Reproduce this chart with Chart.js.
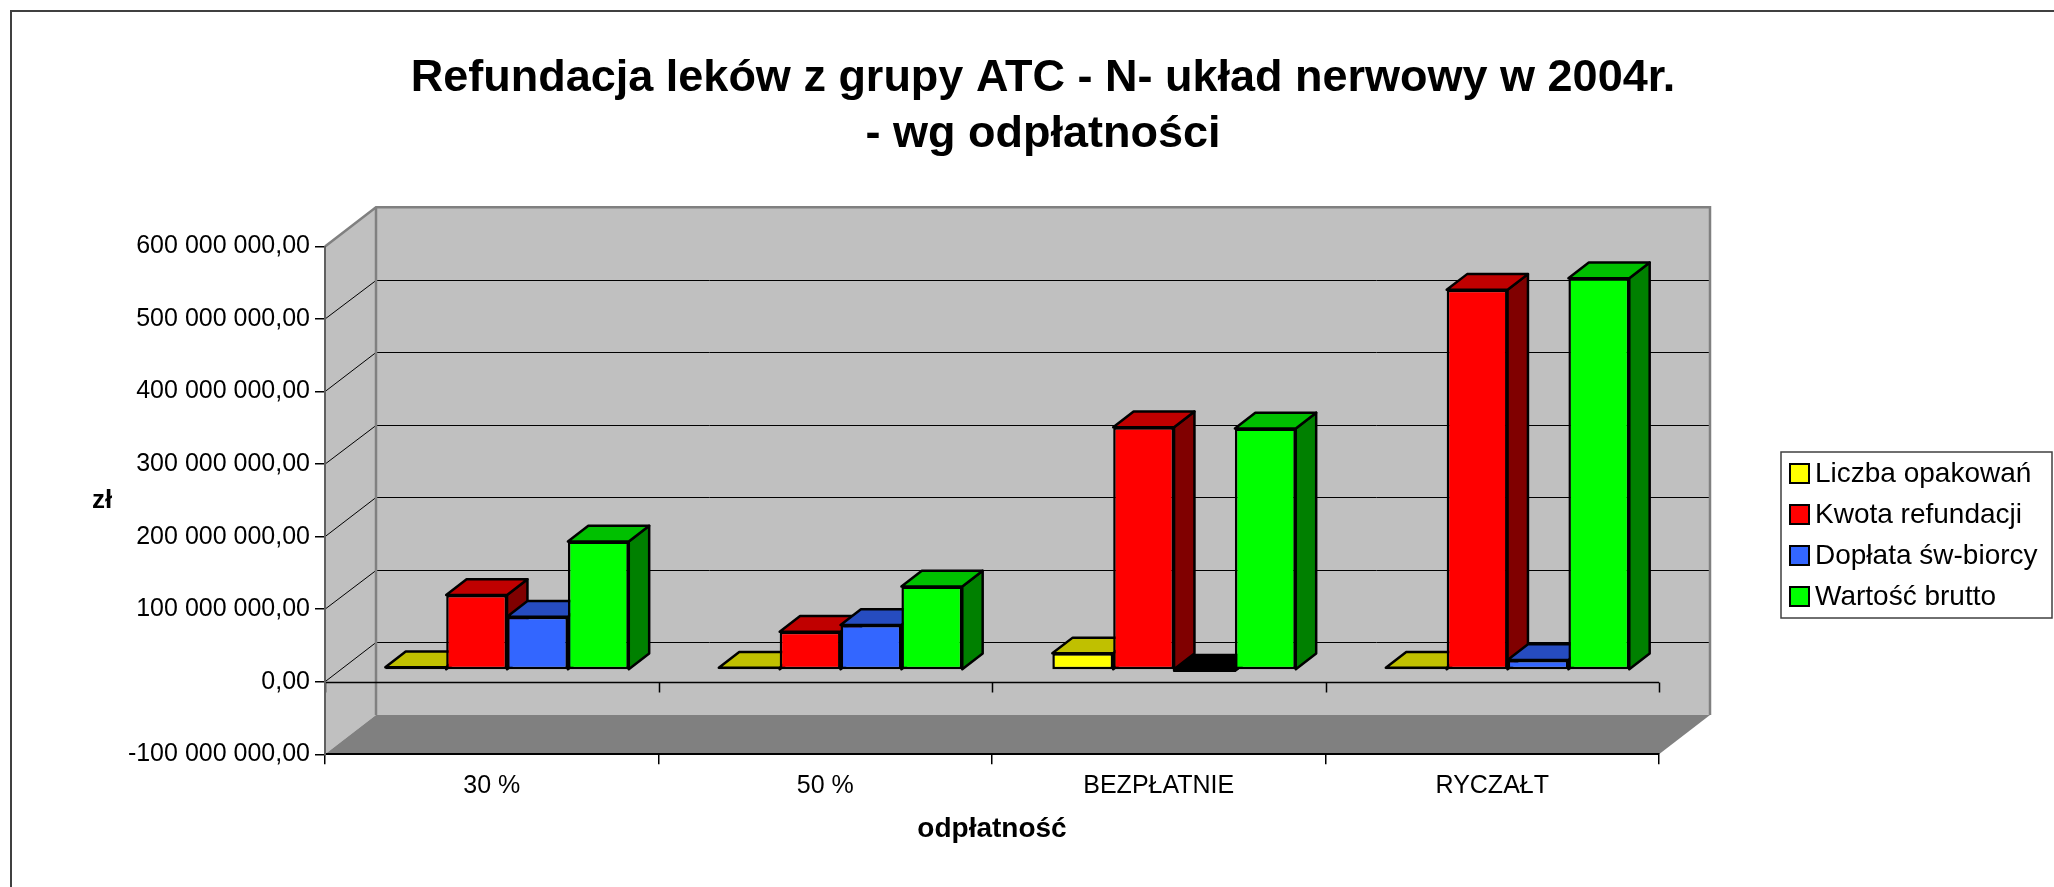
<!DOCTYPE html>
<html>
<head>
<meta charset="utf-8">
<title>Refundacja leków z grupy ATC - N</title>
<script src="https://cdn.jsdelivr.net/npm/chart.js@4"></script>
<style>
  html, body { margin: 0; padding: 0; background: #fff; }
  canvas { display: block; }
</style>
</head>
<body>
<canvas id="wykres" width="2054" height="887"></canvas>
<script>
// Dane
const kategorie = ['30 %', '50 %', 'BEZPŁATNIE', 'RYCZAŁT'];
const liczbaOpakowan = [3700000, 3200000, 22900000, 3000000];
const kwotaRefundacji = [103400000, 52800000, 334600000, 524000000];
const doplataSwBiorcy = [73500000, 62000000, -1000000, 13800000];
const wartoscBrutto = [177000000, 115000000, 333000000, 540000000];
const etykietySerii = ['Liczba opakowań', 'Kwota refundacji', 'Dopłata św-biorcy', 'Wartość brutto'];
const tytul = ['Refundacja leków z grupy ATC - N- układ nerwowy w 2004r.', '- wg odpłatności'];
const osYMin = -100000000, osYMax = 600000000, osYKrok = 100000000;

// Kolory: przod, gora, bok slupka
const kolory = ['#FFFF00', '#FF0000', '#3366FF', '#00FF00'];
const koloryGora = ['#C0C000', '#C00000', '#264CC0', '#00C000'];
const koloryBok = ['#808000', '#800000', '#1A3380', '#008000'];

const FONT = "'Liberation Sans', Arial, sans-serif";
Chart.defaults.font.family = FONT;
Chart.defaults.color = '#000';

// glebokosc 3D (przesuniecie sciany tylnej)
const GLEB_X = 51, GLEB_Y = -39.3;
const SLUPEK_PRZOD = 0.3, SLUPEK_GLEB = 0.4;

function formatZl(v) {
  const neg = v < 0;
  const cz = Math.abs(v).toFixed(2).split('.');
  const calk = cz[0].replace(/\B(?=(\d{3})+(?!\d))/g, ' ');
  return (neg ? '-' : '') + calk + ',' + cz[1];
}

function wielokat(ctx, pkt, kolor) {
  ctx.beginPath();
  ctx.moveTo(pkt[0][0], pkt[0][1]);
  for (let i = 1; i < pkt.length; i++) ctx.lineTo(pkt[i][0], pkt[i][1]);
  ctx.closePath();
  ctx.fillStyle = kolor;
  ctx.fill();
  ctx.stroke();
}

const trojwymiar = {
  id: 'trojwymiar',
  beforeDraw(chart) {
    const {ctx, chartArea: a, scales: {x, y}} = chart;
    ctx.save();
    ctx.fillStyle = '#fff';
    ctx.fillRect(0, 0, chart.width, chart.height);
    const yTop = y.getPixelForValue(osYMax), yBot = y.getPixelForValue(osYMin);
    // sciana tylna i boczna
    ctx.fillStyle = '#c0c0c0';
    ctx.fillRect(a.left + GLEB_X, yTop + GLEB_Y, a.right - a.left, yBot - yTop);
    ctx.beginPath();
    ctx.moveTo(a.left, yTop);
    ctx.lineTo(a.left + GLEB_X, yTop + GLEB_Y);
    ctx.lineTo(a.left + GLEB_X, yBot + GLEB_Y);
    ctx.lineTo(a.left, yBot);
    ctx.closePath();
    ctx.fill();
    // podloga
    ctx.fillStyle = '#808080';
    ctx.beginPath();
    ctx.moveTo(a.left, yBot);
    ctx.lineTo(a.left + GLEB_X, yBot + GLEB_Y);
    ctx.lineTo(a.right + GLEB_X, yBot + GLEB_Y);
    ctx.lineTo(a.right, yBot);
    ctx.closePath();
    ctx.fill();
    // linie siatki na scianach
    ctx.strokeStyle = '#000';
    ctx.lineWidth = 1;
    y.ticks.forEach(t => {
      if (t.value <= osYMin || t.value >= osYMax) return;
      const py = y.getPixelForValue(t.value);
      const pyb = Math.round(py + GLEB_Y) + 0.5;
      ctx.beginPath();
      ctx.moveTo(a.left, py);
      ctx.lineTo(a.left + GLEB_X, pyb);
      ctx.lineTo(a.right + GLEB_X, pyb);
      ctx.stroke();
    });
    // krawedzie scian
    ctx.strokeStyle = '#808080';
    ctx.lineWidth = 2.5;
    ctx.beginPath();
    ctx.moveTo(a.left, yTop);
    ctx.lineTo(a.left + GLEB_X, yTop + GLEB_Y);
    ctx.lineTo(a.right + GLEB_X, yTop + GLEB_Y);
    ctx.lineTo(a.right + GLEB_X, yBot + GLEB_Y);
    ctx.moveTo(a.left + GLEB_X, yTop + GLEB_Y);
    ctx.lineTo(a.left + GLEB_X, yBot + GLEB_Y);
    ctx.stroke();
    // os kategorii na poziomie 0
    const y0 = Math.round(y.getPixelForValue(0)) + 0.5;
    ctx.strokeStyle = '#000';
    ctx.lineWidth = 1.5;
    ctx.beginPath();
    ctx.moveTo(a.left, y0);
    ctx.lineTo(a.right, y0);
    for (let i = 0; i <= kategorie.length; i++) {
      const px = Math.round(x.getPixelForValue(i - 0.5)) + 0.5;
      ctx.moveTo(px, y0);
      ctx.lineTo(px, y0 + 10);
    }
    ctx.stroke();
    ctx.restore();
  },
  beforeDatasetsDraw(chart) {
    const ctx = chart.ctx;
    const bx = GLEB_X * SLUPEK_GLEB, by = GLEB_Y * SLUPEK_GLEB;
    ctx.save();
    ctx.translate(GLEB_X * SLUPEK_PRZOD, GLEB_Y * SLUPEK_PRZOD);
    ctx.strokeStyle = '#000';
    ctx.lineWidth = 2.5;
    ctx.lineJoin = 'round';
    for (let j = 0; j < kategorie.length; j++) {
      chart.data.datasets.forEach((ds, i) => {
        const el = chart.getDatasetMeta(i).data[j];
        const p = el.getProps(['x', 'y', 'base', 'width'], true);
        const l = p.x - p.width / 2, r = p.x + p.width / 2;
        const t = Math.min(p.y, p.base), b = Math.max(p.y, p.base);
        wielokat(ctx, [[r, t], [r + bx, t + by], [r + bx, b + by], [r, b]], koloryBok[i]);
        const gora = ds.data[j] < 0 ? '#000' : koloryGora[i];
        wielokat(ctx, [[l, t], [l + bx, t + by], [r + bx, t + by], [r, t]], gora);
      });
    }
    ctx.restore();
    // przod slupkow rysuje Chart.js, przesuniety w glab
    ctx.save();
    ctx.translate(GLEB_X * SLUPEK_PRZOD, GLEB_Y * SLUPEK_PRZOD);
  },
  afterDatasetsDraw(chart) {
    chart.ctx.restore();
  },
  afterDraw(chart) {
    const {ctx, chartArea: a} = chart;
    ctx.save();
    ctx.fillStyle = '#000';
    ctx.textAlign = 'center';
    ctx.textBaseline = 'middle';
    ctx.font = 'bold 45px ' + FONT;
    tytul.forEach((t, i) => ctx.fillText(t, 1043, 79 + i * 56));
    ctx.font = 'bold 26px ' + FONT;
    ctx.fillText('zł', 102, (a.top + a.bottom) / 2);
    // legenda
    ctx.strokeStyle = '#404040';
    ctx.lineWidth = 1.5;
    ctx.strokeRect(1781, 452, 271, 166);
    ctx.font = '28px ' + FONT;
    ctx.textAlign = 'left';
    chart.data.datasets.forEach((ds, i) => {
      const cy = 474 + i * 41;
      ctx.fillStyle = ds.backgroundColor;
      ctx.fillRect(1790, cy - 10, 19, 19);
      ctx.strokeStyle = '#000';
      ctx.lineWidth = 2;
      ctx.strokeRect(1790, cy - 10, 19, 19);
      ctx.fillStyle = '#000';
      ctx.fillText(ds.label, 1815, cy);
    });
    // ramka wykresu
    ctx.strokeStyle = '#404040';
    ctx.lineWidth = 2;
    ctx.strokeRect(11, 11, chart.width + 20, chart.height + 20);
    ctx.restore();
  }
};

const serie = [liczbaOpakowan, kwotaRefundacji, doplataSwBiorcy, wartoscBrutto];

new Chart(document.getElementById('wykres'), {
  type: 'bar',
  data: {
    labels: kategorie,
    datasets: serie.map((d, i) => ({
      label: etykietySerii[i],
      data: d,
      backgroundColor: kolory[i],
      borderColor: '#000',
      borderWidth: 2.5,
      borderSkipped: false,
      clip: false
    }))
  },
  options: {
    responsive: false,
    animation: false,
    layout: { padding: { top: 246.5, right: 395, left: 0, bottom: 0 } },
    datasets: { bar: { categoryPercentage: 0.73, barPercentage: 1 } },
    plugins: {
      legend: { display: false },
      title: { display: false },
      tooltip: { enabled: false }
    },
    scales: {
      x: {
        grid: { drawOnChartArea: false, tickLength: 10, color: '#000', lineWidth: 1.5 },
        border: { color: '#000', width: 2 },
        ticks: { padding: 7, font: { size: 25 }, maxRotation: 0, autoSkip: false },
        title: { display: true, text: 'odpłatność', font: { size: 28, weight: 'bold' }, padding: { top: 0, bottom: 41 } },
        afterFit(s) { s.height = 132.7; }
      },
      y: {
        min: osYMin,
        max: osYMax,
        ticks: { stepSize: osYKrok, padding: 5, font: { size: 25 }, callback: v => formatZl(v) },
        grid: { drawOnChartArea: false, tickLength: 10, color: '#000', lineWidth: 1.5 },
        border: { color: '#606060', width: 2 },
        afterFit(s) { s.width = 325; }
      }
    }
  },
  plugins: [trojwymiar]
});
</script>
</body>
</html>
